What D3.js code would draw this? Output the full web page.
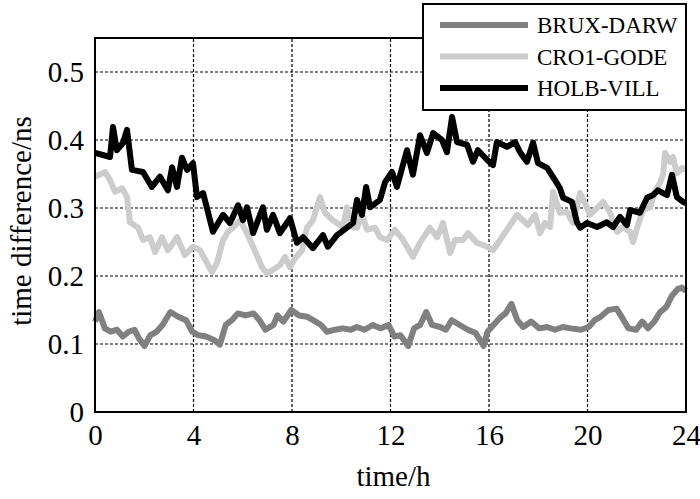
<!DOCTYPE html>
<html>
<head>
<meta charset="utf-8">
<script src="https://cdn.jsdelivr.net/npm/d3@7"></script>
<style>
  body { margin: 0; background: #fff; }
  text { font-family: "Liberation Serif", "Times New Roman", serif; fill: #000; }
</style>
</head>
<body>
<div id="chart"></div>
<script>
// series: [time (h), time difference (ns)]
const bruxDarw = [
  [0,0.133],[0.16,0.147],[0.4,0.123],[0.64,0.118],[0.89,0.121],[1.13,0.111],[1.37,0.118],[1.61,0.121],
  [1.77,0.109],[2.01,0.097],[2.25,0.113],[2.5,0.118],[2.74,0.128],[3.06,0.147],[3.38,0.140],[3.7,0.135],
  [3.95,0.118],[4.19,0.113],[4.51,0.111],[4.83,0.106],[5.07,0.099],[5.31,0.128],[5.56,0.135],[5.8,0.145],
  [6.12,0.142],[6.44,0.145],[6.68,0.135],[6.92,0.121],[7.25,0.128],[7.41,0.142],[7.65,0.133],[7.97,0.150],
  [8.29,0.142],[8.62,0.140],[8.86,0.135],[9.18,0.128],[9.42,0.118],[9.74,0.121],[10.06,0.123],[10.39,0.121],
  [10.63,0.125],[10.95,0.121],[11.27,0.128],[11.59,0.123],[11.92,0.128],[12.16,0.111],[12.4,0.113],[12.72,0.097],
  [12.96,0.123],[13.2,0.128],[13.45,0.147],[13.69,0.128],[14.01,0.125],[14.25,0.121],[14.49,0.135],[14.81,0.128],
  [15.14,0.121],[15.46,0.116],[15.78,0.097],[15.94,0.118],[16.18,0.128],[16.43,0.138],[16.67,0.145],[16.91,0.159],
  [17.15,0.135],[17.39,0.125],[17.71,0.133],[18.04,0.123],[18.36,0.125],[18.68,0.121],[19.0,0.125],[19.32,0.123],
  [19.73,0.121],[20.05,0.125],[20.29,0.135],[20.53,0.140],[20.85,0.150],[21.18,0.152],[21.42,0.138],[21.66,0.123],
  [21.98,0.121],[22.22,0.133],[22.46,0.123],[22.71,0.133],[22.95,0.147],[23.19,0.154],[23.43,0.171],[23.67,0.181],
  [23.83,0.183],[24,0.178]
];
const cro1Gode = [
  [0,0.346],[0.41,0.353],[0.61,0.341],[0.81,0.324],[1.1,0.329],[1.3,0.316],[1.42,0.279],[1.75,0.271],
  [1.95,0.253],[2.23,0.257],[2.44,0.235],[2.72,0.257],[2.96,0.238],[3.33,0.257],[3.65,0.231],[3.98,0.243],
  [4.26,0.238],[4.55,0.219],[4.75,0.206],[4.95,0.219],[5.2,0.253],[5.4,0.265],[5.6,0.271],[5.89,0.282],
  [6.17,0.263],[6.42,0.243],[6.78,0.213],[6.98,0.204],[7.23,0.209],[7.51,0.216],[7.72,0.228],[7.92,0.213],
  [8.12,0.226],[8.41,0.238],[8.61,0.271],[8.85,0.282],[9.14,0.316],[9.34,0.293],[9.66,0.282],[10.07,0.272],
  [10.23,0.301],[10.44,0.272],[10.64,0.271],[10.84,0.290],[11.05,0.268],[11.37,0.271],[11.57,0.257],[11.86,0.253],
  [12.18,0.268],[12.51,0.253],[12.91,0.228],[13.2,0.249],[13.6,0.271],[13.89,0.257],[14.13,0.278],[14.42,0.234],
  [14.62,0.253],[14.94,0.253],[15.15,0.263],[15.51,0.249],[15.92,0.243],[16.16,0.238],[16.45,0.253],[16.73,0.268],
  [17.14,0.290],[17.38,0.282],[17.58,0.275],[17.87,0.290],[18.07,0.263],[18.27,0.278],[18.48,0.272],[18.6,0.324],
  [18.88,0.293],[19.17,0.294],[19.41,0.278],[19.7,0.322],[19.9,0.307],[20.1,0.290],[20.39,0.300],[20.63,0.309],
  [20.91,0.294],[21.2,0.265],[21.44,0.272],[21.73,0.265],[21.85,0.250],[22.05,0.275],[22.25,0.297],[22.54,0.301],
  [22.74,0.324],[22.94,0.337],[23.07,0.349],[23.15,0.381],[23.35,0.368],[23.47,0.375],[23.63,0.351],[23.84,0.359],
  [24,0.356]
];
const holbVill = [
  [0,0.381],[0.61,0.375],[0.73,0.419],[0.89,0.385],[1.14,0.396],[1.3,0.415],[1.5,0.356],[1.95,0.353],
  [2.31,0.331],[2.64,0.346],[2.96,0.326],[3.13,0.360],[3.33,0.331],[3.53,0.374],[3.74,0.356],[3.98,0.366],
  [4.14,0.316],[4.39,0.322],[4.79,0.265],[5.2,0.290],[5.48,0.278],[5.81,0.304],[6.01,0.282],[6.17,0.301],
  [6.42,0.263],[6.82,0.301],[6.98,0.268],[7.23,0.290],[7.51,0.263],[7.92,0.285],[8.2,0.249],[8.45,0.257],
  [8.85,0.241],[9.26,0.260],[9.46,0.243],[9.83,0.260],[10.23,0.271],[10.48,0.278],[10.64,0.312],[10.84,0.290],
  [11.01,0.331],[11.17,0.301],[11.57,0.312],[11.78,0.338],[12.06,0.353],[12.26,0.331],[12.67,0.385],[12.91,0.349],
  [13.2,0.407],[13.48,0.381],[13.73,0.410],[14.09,0.400],[14.29,0.382],[14.5,0.434],[14.7,0.397],[15.11,0.393],
  [15.35,0.368],[15.55,0.385],[15.92,0.371],[16.16,0.363],[16.32,0.397],[16.73,0.390],[17.06,0.397],[17.26,0.382],
  [17.54,0.368],[17.79,0.396],[17.99,0.366],[18.36,0.359],[18.68,0.341],[18.88,0.329],[19.01,0.315],[19.37,0.309],
  [19.57,0.279],[19.7,0.271],[19.98,0.278],[20.39,0.272],[20.79,0.279],[21.04,0.272],[21.32,0.287],[21.6,0.275],
  [21.73,0.297],[22.13,0.293],[22.42,0.315],[22.66,0.319],[22.86,0.326],[23.23,0.319],[23.43,0.349],[23.63,0.316],
  [23.88,0.309],[24,0.307]
];

const seriesNames = ["BRUX-DARW", "CRO1-GODE", "HOLB-VILL"];
const seriesColors = ["#808080", "#cccccc", "#000000"];
const xTicks = [0, 4, 8, 12, 16, 20, 24];
const yTicks = [0, 0.1, 0.2, 0.3, 0.4, 0.5];
const xTitle = "time/h";
const yTitle = "time difference/ns";

const width = 700, height = 499;
const margin = { top: 38, right: 14, bottom: 87, left: 95 };
const fontSize = 29;

const svg = d3.select("#chart").append("svg").attr("width", width).attr("height", height);

const x = d3.scaleLinear().domain([0, 24]).range([margin.left, width - margin.right]);
const y = d3.scaleLinear().domain([0, 0.55]).range([height - margin.bottom, margin.top]);

// grid
svg.append("g").selectAll("line")
    .data(xTicks.slice(1, -1))
    .join("line")
    .attr("x1", d => x(d)).attr("x2", d => x(d))
    .attr("y1", y(0)).attr("y2", y(0.55))
    .attr("stroke", "#000").attr("stroke-width", 1.2).attr("stroke-dasharray", "3,2");
svg.append("g").selectAll("line")
    .data(yTicks.slice(1))
    .join("line")
    .attr("x1", x(0)).attr("x2", x(24))
    .attr("y1", d => y(d)).attr("y2", d => y(d))
    .attr("stroke", "#000").attr("stroke-width", 1.2).attr("stroke-dasharray", "3,2");

// data lines
const line = d3.line().x(d => x(d[0])).y(d => y(d[1]));
[bruxDarw, cro1Gode, holbVill].forEach((s, i) => {
    svg.append("path")
        .datum(s)
        .attr("d", line)
        .attr("fill", "none")
        .attr("stroke", seriesColors[i])
        .attr("stroke-width", 6)
        .attr("stroke-linejoin", "round");
});

// frame
svg.append("rect")
    .attr("x", x(0)).attr("y", y(0.55))
    .attr("width", x(24) - x(0)).attr("height", y(0) - y(0.55))
    .attr("fill", "none").attr("stroke", "#000").attr("stroke-width", 2);

// axes
const xAxis = svg.append("g")
    .attr("transform", `translate(0,${y(0)})`)
    .call(d3.axisBottom(x).tickValues(xTicks).tickSize(0).tickPadding(12).tickFormat(d3.format("d")));
xAxis.select(".domain").remove();
xAxis.selectAll("text").attr("font-size", fontSize).attr("dy", "0.71em");

const yAxis = svg.append("g")
    .attr("transform", `translate(${x(0)},0)`)
    .call(d3.axisLeft(y).tickValues(yTicks).tickSize(0).tickPadding(11).tickFormat(d => d === 0 ? "0" : d3.format(".1f")(d)));
yAxis.select(".domain").remove();
yAxis.selectAll("text").attr("font-size", fontSize);

svg.append("text")
    .attr("x", (x(0) + x(24)) / 2 + 3).attr("y", 486)
    .attr("text-anchor", "middle").attr("font-size", fontSize)
    .text(xTitle);

svg.append("text")
    .attr("transform", `translate(31,${(y(0) + y(0.55)) / 2 - 4}) rotate(-90)`)
    .attr("text-anchor", "middle").attr("font-size", fontSize)
    .text(yTitle);

// legend
const legend = svg.append("g");
legend.append("rect")
    .attr("x", 423).attr("y", 4).attr("width", x(24) - 423).attr("height", 106)
    .attr("fill", "#fff").attr("stroke", "#000").attr("stroke-width", 2);
seriesNames.forEach((name, i) => {
    const ly = 25 + i * 31.5;
    legend.append("line")
        .attr("x1", 440).attr("x2", 528).attr("y1", ly).attr("y2", ly)
        .attr("stroke", seriesColors[i]).attr("stroke-width", 6);
    legend.append("text")
        .attr("x", 537).attr("y", ly + 8)
        .attr("font-size", 23)
        .text(name);
});
</script>
</body>
</html>
